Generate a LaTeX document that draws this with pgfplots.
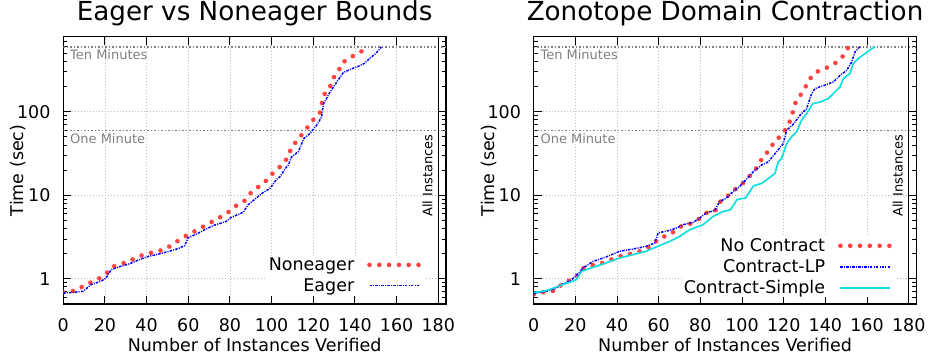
\documentclass[border=0pt]{standalone}
\usepackage{pgfplots}
\pgfplotsset{compat=1.18}
\usepackage{fontspec}
\setmainfont{DejaVu Sans}
\newcommand{\fsTick}{\fontsize{17.5bp}{20bp}\selectfont}
\newcommand{\fsTitle}{\fontsize{26.2bp}{30bp}\selectfont}
\newcommand{\fsSmall}{\fontsize{13bp}{16bp}\selectfont}
\definecolor{redline}{RGB}{255,66,66}
\definecolor{blueline}{RGB}{0,0,250}
\definecolor{cyanline}{RGB}{20,222,222}
\definecolor{refgray}{RGB}{128,128,128}
\definecolor{gridgray}{RGB}{190,190,190}
\tikzset{
  reflines/.style={refgray, line width=1.5bp, dash pattern=on 1.5bp off 2bp},
  nonea/.style={redline, line width=4.6bp, line cap=round, dash pattern=on 0bp off 9.8bp},
  eag/.style={blueline, line width=1.5bp, dash pattern=on 2.5bp off 1.2bp on 1bp off 1.2bp},
  simp/.style={cyanline, line width=1.7bp},
}
\pgfplotsset{
    scale only axis, width=382.7bp, height=267.3bp,
    xmin=0, xmax=183.7, ymin=0.5, ymax=794,
    xtick={0,20,40,60,80,100,120,140,160,180},
    xticklabels={0,20,40,60,80,100,120,140,160,180},
    ytick={1,10,100}, yticklabels={1,10,100},
    minor ytick={0.5,0.6,0.7,0.8,0.9,2,3,4,5,6,7,8,9,20,30,40,50,60,70,80,90,200,300,400,500,600,700},
    grid=major,
    major grid style={gridgray, line width=0.8bp, dash pattern=on 1bp off 2bp},
    tick style={black, line width=1bp},
    major tick length=8bp, minor tick length=4bp,
    axis line style={black, line width=1.3bp},
    tick label style={font=\fsTick},
    xticklabel style={anchor=base, yshift=-27.7bp},
    yticklabel style={anchor=east, inner sep=0bp, xshift=-12.6bp},
    label style={font=\fsTick},
    xlabel style={at={(axis description cs:0.5,0)}, anchor=base, yshift=-47.7bp},
    ylabel style={at={(axis description cs:-0.10295,0.5)}, anchor=base},
    title style={font=\fsTitle, at={(0.5,1)}, anchor=base, yshift=10.7bp},
    legend cell align=right, legend plot pos=right,
    legend image code/.code={\draw[#1] (0bp,0bp) -- (50bp,0bp);},
    legend style={draw=none, fill=white, font=\fsTick, at={(1,0)}, anchor=south east,
      inner sep=2bp, row sep=6.5bp, column sep=13bp,
      nodes={inner sep=0bp}},
}
\begin{document}
\begin{tikzpicture}
\useasboundingbox (0,0) rectangle (934bp,356bp);
% ---------------- left panel
\begin{axis}[ymode=log, at={(63.3bp,52bp)}, anchor=south west,
  title={Eager vs Noneager Bounds},
  xlabel={Number of Instances Verified}, ylabel={Time (sec)},
  legend style={xshift=-22bp, yshift=9bp}]
\addplot[reflines, forget plot] coordinates {(0,600) (183.7,600)};
\addplot[reflines, forget plot] coordinates {(0,60) (183.7,60)};
\addplot[black, line width=1.3bp, forget plot] coordinates {(180,0.5) (180,794)};
\addplot[nonea] coordinates {
(0,0.69) (1.2,0.705) (6,0.72) (9.6,0.82) (13.3,0.91) (17.2,1.01) (20.8,1.17) (23.7,1.40)
(28,1.51) (32.3,1.66) (36.2,1.86) (40.2,2.0) (44.8,2.13) (49,2.26) (52.8,2.63) (56.7,3.03)
(60.5,3.46) (64.6,3.88) (68.6,4.42) (72.5,5.01) (76.6,5.7) (79.8,6.45) (83.3,7.63) (86.8,8.5)
(89.6,10.45) (92.8,12.2) (96.4,14.1) (99.3,17.1) (102.4,20.3) (105.6,23.9) (108,29.3)
(109.5,38) (112.3,45.2) (115,55.3) (117.6,67) (120,80.2) (123,95) (124,120) (124.7,156)
(127.8,191) (129.2,248) (132,301) (133.6,383) (137.2,436) (141,500) (145,557) (146.5,590)
};
\addlegendentry{Noneager}
\addplot[eag] coordinates {
(0,0.67) (1,0.68) (5,0.69) (9.5,0.71) (13.4,0.855) (18.2,0.94) (20.6,1.03) (23,1.29)
(27,1.40) (31.9,1.52) (36,1.68) (39.9,1.83) (44.6,1.95) (51,2.14) (55,2.3) (58.3,2.5)
(59.8,3.09) (64,3.45) (67.9,3.88) (71.9,4.34) (78.2,4.88) (80.6,5.45) (86.3,6.25) (88.7,7.7)
(92.6,9.27) (95.9,10.8) (99.2,12.1) (102.4,15.6) (104,16.7) (106.7,21.2) (108,23.1)
(109.6,28.9) (112.8,33.3) (115.5,48) (118.4,55) (121.6,69) (124,87) (124.8,123) (128,172)
(131.5,232) (134.4,295) (138.4,328) (141,345) (144.5,380) (147.5,445) (150,500) (152,570) (152.6,600)
};
\addlegendentry{Eager}
\node[inner sep=0bp, anchor=base west, font=\fsSmall, text=refgray] at (axis cs:3.2,418) {Ten Minutes};
\node[inner sep=0bp, anchor=base west, font=\fsSmall, text=refgray] at (axis cs:3.2,42.2) {One Minute};
\node[inner sep=0bp, anchor=base, rotate=90, font=\fsSmall] at (axis cs:177.1,17.2) {All Instances};
\end{axis}
% ---------------- right panel
\begin{axis}[ymode=log, at={(533.7bp,52bp)}, anchor=south west,
  title={Zonotope Domain Contraction},
  xlabel={Number of Instances Verified}, ylabel={Time (sec)},
  legend style={xshift=-21.5bp, yshift=6.5bp}]
\addplot[reflines, forget plot] coordinates {(0,600) (183.7,600)};
\addplot[reflines, forget plot] coordinates {(0,60) (183.7,60)};
\addplot[black, line width=1.3bp, forget plot] coordinates {(180,0.5) (180,794)};
\addplot[nonea] coordinates {
(0,0.65) (1.6,0.66) (6.4,0.71) (10.4,0.72) (13.6,0.87) (17.1,0.955) (20.8,1.095) (23.2,1.32)
(27.5,1.45) (32,1.52) (36,1.65) (40,1.83) (44.3,1.95) (48.8,2.04) (52.8,2.24) (56.8,2.5)
(59.7,3.0) (63.7,3.3) (67.7,3.7) (71.2,4.34) (75.2,4.58) (79.5,5.25) (82.8,6.15) (87.2,6.55)
(89.3,8.3) (92.5,9.5) (95.7,11.4) (98.9,12.8) (102.3,15.7) (105.5,19) (108.3,23.8)
(110.3,30.2) (113.5,34.8) (115.4,44.5) (118.8,51.7) (121.2,63.3) (123.3,80) (124.4,100)
(125.7,129) (127.9,156) (130.3,195) (132.3,245) (135.6,299) (139.5,328) (143.2,362)
(147.1,420) (149.9,522) (150.8,580)
};
\addlegendentry{No Contract}
\addplot[eag] coordinates {
(0,0.67) (0.5,0.67) (6,0.71) (10.1,0.76) (13.3,0.855) (17.3,0.94) (20.5,1.095) (23.7,1.35)
(28.5,1.62) (34.8,1.83) (41.3,2.14) (47.7,2.28) (54,2.45) (58.1,2.69) (59.7,3.55) (65.3,3.81)
(68.5,4.06) (71.7,4.45) (76.5,4.75) (79.7,5.35) (82.8,6.15) (86.9,6.6) (89.3,8.45) (92.5,9.27)
(95.5,11.0) (99,12.9) (102,15.5) (105.4,19.2) (109.4,23.1) (112.6,25.2) (116.6,33.3)
(119.8,41.7) (121.4,60.3) (124.6,71) (127.8,91) (131,109) (133.4,165) (135,190) (139.8,209)
(143.8,228) (147,272) (150.2,314) (152.6,394) (154.2,520) (156.4,600)
};
\addlegendentry{Contract-LP}
\addplot[simp] coordinates {
(0,0.69) (0.5,0.69) (4.5,0.71) (7.7,0.745) (12.5,0.83) (17.3,0.91) (20.5,0.98) (22.9,1.23)
(27.6,1.35) (34.8,1.55) (41.3,1.78) (47.7,1.95) (54,2.14) (58.8,2.41) (65.3,2.81) (70.1,3.23)
(74.9,3.88) (81.3,4.45) (86.1,5.6) (90.9,6.4) (94.4,6.7) (97.6,8.9) (101.6,9.3) (102.4,9.9)
(105.5,13) (109.4,13.9) (112.6,15.9) (115.8,18.3) (117.4,25.2) (119,27.6) (121.4,41.7)
(123.8,50.4) (126.2,57.6) (128.6,79.6) (131,95) (133.9,125) (137.4,131) (141.4,144)
(143.8,165) (147,198) (148.6,249) (151.8,288) (153.4,379) (155.8,435) (159,497) (162.2,570)
(163.8,600)
};
\addlegendentry{Contract-Simple}
\node[inner sep=0bp, anchor=base west, font=\fsSmall, text=refgray] at (axis cs:3.2,418) {Ten Minutes};
\node[inner sep=0bp, anchor=base west, font=\fsSmall, text=refgray] at (axis cs:3.2,42.2) {One Minute};
\node[inner sep=0bp, anchor=base, rotate=90, font=\fsSmall] at (axis cs:177.1,17.2) {All Instances};
\end{axis}
\end{tikzpicture}
\end{document}
